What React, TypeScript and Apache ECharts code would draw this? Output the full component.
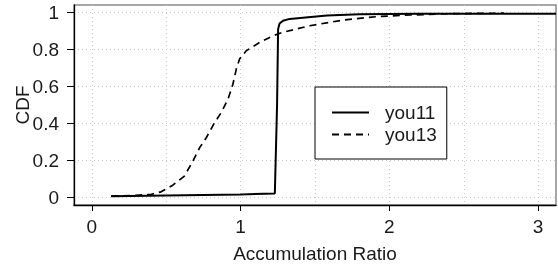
import React, { useEffect, useRef } from "react";
import * as echarts from "echarts";

const FONT = "'Liberation Sans', Arial, Helvetica, sans-serif";

const seriesNames = ["you11", "you13"];
const xTickValues = [0, 1, 2, 3];
const xGridValues = [0, 0.5, 1, 1.5, 2, 2.5, 3];
const yTickValues = [0, 0.2, 0.4, 0.6, 0.8, 1];

const you11X = [0.13, 0.5, 1.0, 1.23, 1.245, 1.252, 1.262, 1.285, 1.33, 1.58, 1.8, 2.2, 3.12];
const you11Y = [0.007, 0.011, 0.017, 0.022, 0.5, 0.91, 0.94, 0.955, 0.965, 0.983, 0.99, 0.993, 0.993];

const you13X = [0.13, 0.3, 0.4, 0.465, 0.544, 0.622, 0.679, 0.724, 0.769, 0.825, 0.87, 0.915, 0.948, 0.971, 0.993, 1.038, 1.128, 1.218, 1.285, 1.465, 1.69, 1.915, 2.14, 2.4, 2.77];
const you13Y = [0.008, 0.012, 0.018, 0.031, 0.067, 0.116, 0.197, 0.269, 0.323, 0.405, 0.459, 0.531, 0.612, 0.694, 0.748, 0.793, 0.838, 0.874, 0.893, 0.928, 0.959, 0.977, 0.986, 0.993, 0.996];

const zip = (xs: number[], ys: number[]) => xs.map((x, i) => [x, ys[i]]);

export default function App() {
  const ref = useRef<HTMLDivElement>(null);
  useEffect(() => {
    if (!ref.current) return;
    const chart = echarts.init(ref.current, null, { renderer: "svg" });
    const textColor = "#1a1a1a";
    const fs = 19;
    chart.setOption({
      animation: false,
      grid: {
        left: 74,
        right: 2,
        top: 5,
        bottom: 62,
        show: true,
        borderColor: "#8a8a8a",
        borderWidth: 1.5,
        backgroundColor: "transparent",
        outerBoundsMode: "none",
      },
      legend: {
        data: seriesNames,
        orient: "vertical",
        left: 315,
        top: 87,
        itemWidth: 37,
        itemHeight: 12,
        itemGap: 3,
        padding: [16, 10, 15, 16],
        borderColor: "#000",
        borderWidth: 1,
        borderRadius: 0,
        backgroundColor: "#fff",
        itemStyle: { opacity: 0 },
        textStyle: { fontSize: fs, color: textColor, fontFamily: FONT, padding: [0, 0, 0, 11] },
      },
      xAxis: [
        {
          type: "value",
          min: -0.12,
          max: 3.12,
          position: "bottom",
          axisLine: { show: true, onZero: false, lineStyle: { color: "#000", width: 1.3 } },
          axisTick: { show: true, customValues: xTickValues, length: 6, lineStyle: { color: "#000" } },
          axisLabel: { customValues: xTickValues, fontSize: fs, color: textColor, fontFamily: FONT, margin: 12 },
          splitLine: { show: false },
          name: "Accumulation Ratio",
          nameLocation: "middle",
          nameGap: 39,
          nameMoveOverlap: false,
          nameTextStyle: { fontSize: fs, color: textColor, fontFamily: FONT },
        },
        {
          type: "value",
          min: -0.12,
          max: 3.12,
          position: "bottom",
          axisLine: { show: false },
          axisTick: { show: false, customValues: xGridValues },
          axisLabel: { show: false },
          splitLine: { show: true, lineStyle: { color: "#c8c8c8", type: [1, 3], width: 1 } },
        },
      ],
      yAxis: {
        type: "value",
        min: -0.04,
        max: 1.04,
        axisLine: { show: true, onZero: false, lineStyle: { color: "#000", width: 1.3 } },
        axisTick: { show: true, customValues: yTickValues, length: 7, lineStyle: { color: "#000" } },
        axisLabel: {
          customValues: yTickValues,
          fontSize: fs,
          color: textColor,
          fontFamily: FONT,
          margin: 15,
          formatter: (v: number) => String(v),
        },
        splitLine: { show: true, lineStyle: { color: "#c8c8c8", type: [1, 3], width: 1 } },
        name: "CDF",
        nameLocation: "middle",
        nameGap: 42,
        nameMoveOverlap: false,
        nameTextStyle: { fontSize: fs, color: textColor, fontFamily: FONT },
      },
      series: [
        {
          name: seriesNames[0],
          type: "line",
          xAxisIndex: 0,
          data: zip(you11X, you11Y),
          symbol: "none",
          lineStyle: { color: "#000", width: 2, type: "solid" },
          itemStyle: { color: "#000" },
        },
        {
          name: seriesNames[1],
          type: "line",
          xAxisIndex: 0,
          data: zip(you13X, you13Y),
          symbol: "none",
          lineStyle: { color: "#000", width: 1.7, type: [7, 5] },
          itemStyle: { color: "#000" },
        },
      ],
    });
    return () => chart.dispose();
  }, []);
  return <div ref={ref} style={{ position: "fixed", left: 0, top: 0, width: 558, height: 267 }} />;
}
